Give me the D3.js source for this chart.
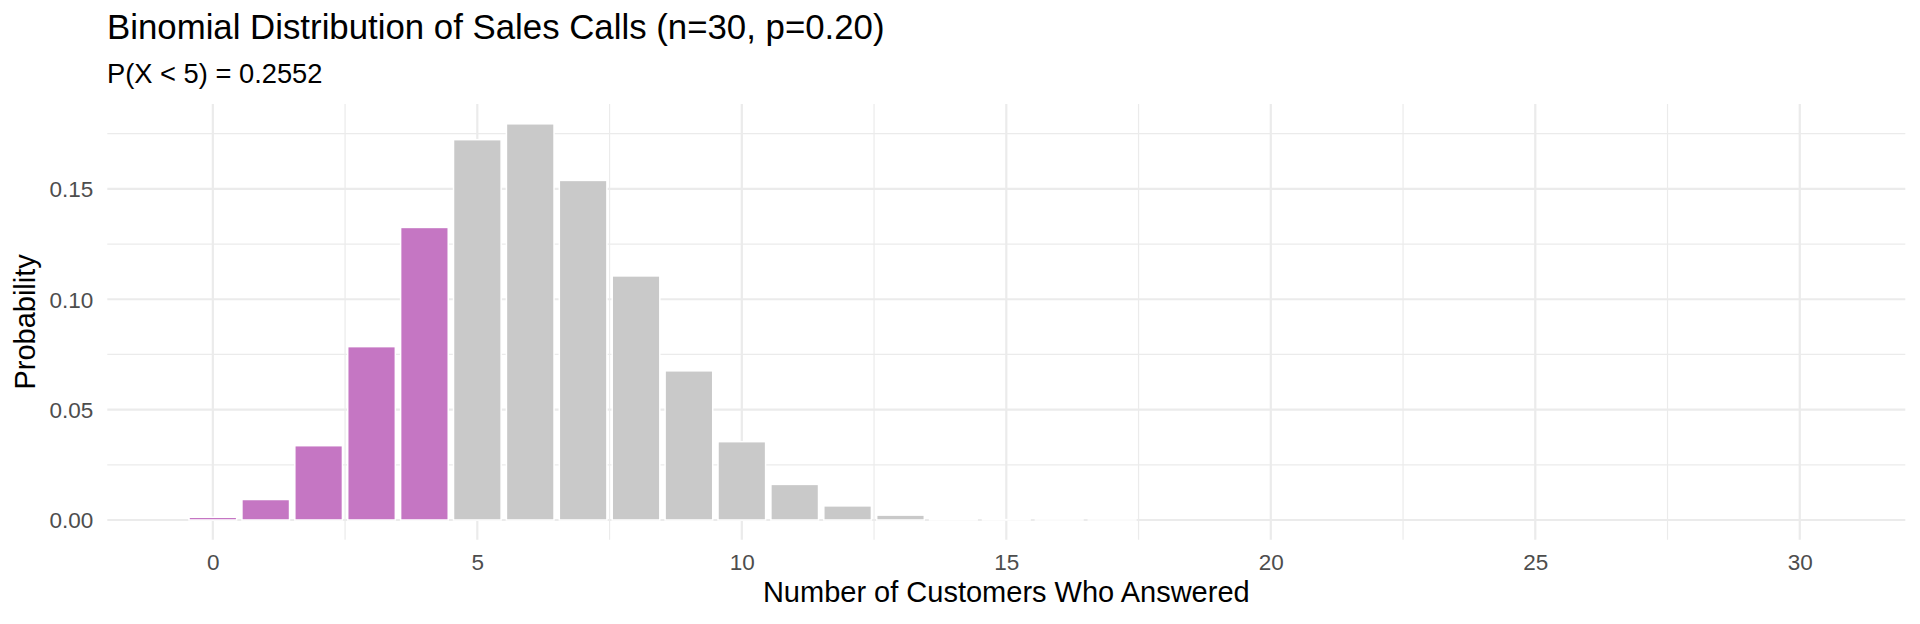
<!DOCTYPE html>
<html>
<head>
<meta charset="utf-8">
<script src="https://cdn.jsdelivr.net/npm/d3@7"></script>
<style>
  html, body { margin: 0; padding: 0; background: #fff; }
  svg { display: block; font-family: "Liberation Sans", Arial, Helvetica, sans-serif; }
</style>
</head>
<body>
<svg id="chart" width="1920" height="624"></svg>
<script>
// ---- data ----
const counts = [0,1,2,3,4,5,6,7,8,9,10,11,12,13,14,15,16,17,18,19,20,21,22,23,24,25,26,27,28,29,30];
const probabilities = [
  0.00124, 0.00928, 0.03366, 0.07853, 0.13252, 0.17228, 0.17946, 0.15382,
  0.11056, 0.06757, 0.03548, 0.01613, 0.00639, 0.00221, 0.00067, 0.00018,
  0.00004, 0.00001, 0, 0, 0, 0, 0, 0, 0, 0, 0, 0, 0, 0, 0
];
const highlighted = [true, true, true, true, true, false, false, false, false, false, false, false, false, false, false, false,
  false, false, false, false, false, false, false, false, false, false, false, false, false, false, false];
const xTicks = [0, 5, 10, 15, 20, 25, 30];
const xMinor = [2.5, 7.5, 12.5, 17.5, 22.5, 27.5];
const yTicks = [0, 0.05, 0.10, 0.15];
const yMinor = [0.025, 0.075, 0.125, 0.175];
const titleText = "Binomial Distribution of Sales Calls (n=30, p=0.20)";
const subtitleText = "P(X < 5) = 0.2552";
const xLabel = "Number of Customers Who Answered";
const yLabel = "Probability";

// ---- layout ----
const panel = { left: 107.3, right: 1905.3, top: 104, bottom: 539.8 };
const barWidth = 0.9;
const svg = d3.select("#chart");

const data = counts.map((c, i) => ({ x: c, p: probabilities[i], hi: highlighted[i] }));

const xLo = -barWidth / 2, xHi = counts[counts.length - 1] + barWidth / 2;
const xPad = (xHi - xLo) * 0.05;
const x = d3.scaleLinear().domain([xLo - xPad, xHi + xPad]).range([panel.left, panel.right]);
const yMax = d3.max(probabilities);
const yPad = yMax * 0.05;
const y = d3.scaleLinear().domain([-yPad, yMax + yPad]).range([panel.bottom, panel.top]);

const grid = svg.append("g");
// minor grid
grid.selectAll(".vminor").data(xMinor).join("line")
  .attr("x1", d => x(d)).attr("x2", d => x(d))
  .attr("y1", panel.top).attr("y2", panel.bottom)
  .attr("stroke", "#EBEBEB").attr("stroke-width", 1.2);
grid.selectAll(".hminor").data(yMinor).join("line")
  .attr("x1", panel.left).attr("x2", panel.right)
  .attr("y1", d => y(d)).attr("y2", d => y(d))
  .attr("stroke", "#EBEBEB").attr("stroke-width", 1.2);
// major grid
grid.selectAll(".vmajor").data(xTicks).join("line")
  .attr("x1", d => x(d)).attr("x2", d => x(d))
  .attr("y1", panel.top).attr("y2", panel.bottom)
  .attr("stroke", "#EBEBEB").attr("stroke-width", 2.2);
grid.selectAll(".hmajor").data(yTicks).join("line")
  .attr("x1", panel.left).attr("x2", panel.right)
  .attr("y1", d => y(d)).attr("y2", d => y(d))
  .attr("stroke", "#EBEBEB").attr("stroke-width", 2.2);

// bars
svg.append("g").selectAll("rect").data(data).join("rect")
  .attr("x", d => x(d.x - barWidth / 2))
  .attr("width", d => x(d.x + barWidth / 2) - x(d.x - barWidth / 2))
  .attr("y", d => y(d.p))
  .attr("height", d => Math.max(0, y(0) - y(d.p)))
  .attr("fill", d => d.hi ? "#C576C3" : "#C9C9C9")
  .attr("stroke", "#FFFFFF")
  .attr("stroke-width", 1.5);

// axes
const xAxis = d3.axisBottom(x).tickValues(xTicks).tickSize(0).tickPadding(0).tickFormat(d3.format("d"));
const gx = svg.append("g").attr("transform", `translate(0,${panel.bottom})`).call(xAxis);
gx.select(".domain").remove();
gx.selectAll("text").attr("y", 30.5).attr("dy", 0)
  .attr("font-size", 22.5).attr("fill", "#4D4D4D")
  .attr("font-family", "Liberation Sans, Arial, sans-serif");

const yAxis = d3.axisLeft(y).tickValues(yTicks).tickSize(0).tickPadding(0).tickFormat(d3.format(".2f"));
const gy = svg.append("g").attr("transform", `translate(${panel.left},0)`).call(yAxis);
gy.select(".domain").remove();
gy.selectAll("text").attr("x", -14).attr("dy", "0.35em")
  .attr("font-size", 22.5).attr("fill", "#4D4D4D")
  .attr("font-family", "Liberation Sans, Arial, sans-serif");

// titles
svg.append("text").attr("x", 107).attr("y", 39)
  .attr("font-size", 34.8).attr("fill", "#000").text(titleText);
svg.append("text").attr("x", 107).attr("y", 83)
  .attr("font-size", 27.3).attr("fill", "#000").text(subtitleText);
svg.append("text").attr("x", (panel.left + panel.right) / 2).attr("y", 602)
  .attr("text-anchor", "middle").attr("font-size", 29).attr("fill", "#000").text(xLabel);
svg.append("text")
  .attr("transform", `translate(35,${(panel.top + panel.bottom) / 2}) rotate(-90)`)
  .attr("text-anchor", "middle").attr("font-size", 29).attr("fill", "#000").text(yLabel);
</script>
</body>
</html>
